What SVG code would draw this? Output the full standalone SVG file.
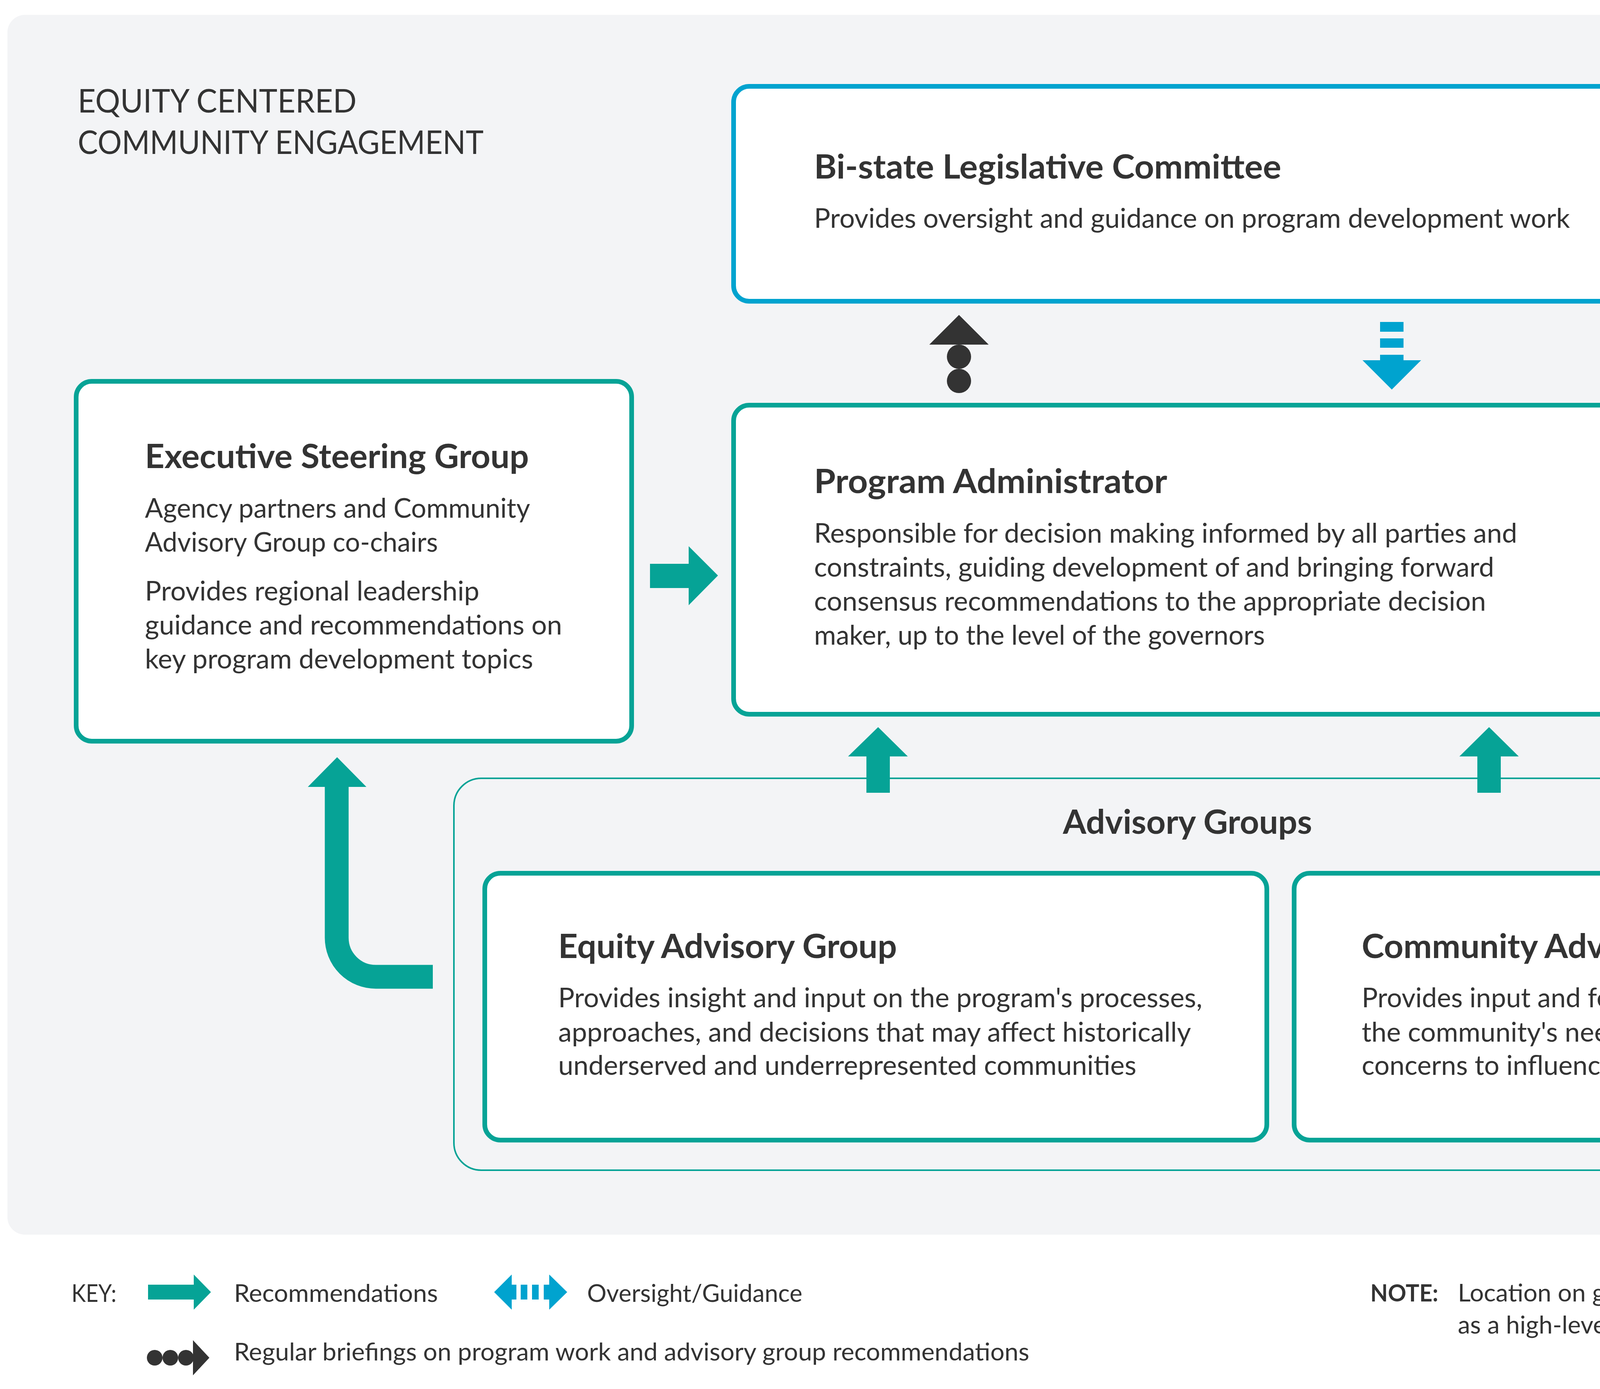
<svg xmlns="http://www.w3.org/2000/svg" width="6005" height="3555" viewBox="0 0 6005 3555">
<style>
.bg{fill:#f3f4f6}
.box{fill:#ffffff;stroke-width:12}
.teal{stroke:#06a396}
.blue{stroke:#00a3cf}
.ft{fill:#06a396}
.fb{fill:#00a3cf}
.fk{fill:#333333}
text{font-family:Lato,"Liberation Sans",sans-serif;fill:#333333}
.h{font-size:83px;font-weight:400}
.t{font-size:86px;font-weight:700}
.b{font-size:69px;font-weight:400}
.k{font-size:62px;font-weight:400}
.kb{font-size:62px;font-weight:700}
</style>
<rect x="0" y="0" width="6005" height="3555" fill="#ffffff"/>
<rect class="bg" x="19" y="38" width="5946" height="3122" rx="45"/>

<g id="header">
<text class="h" x="199" y="288" textLength="714" lengthAdjust="spacingAndGlyphs">EQUITY CENTERED</text>
<text class="h" x="199" y="394" textLength="1039" lengthAdjust="spacingAndGlyphs">COMMUNITY ENGAGEMENT</text>
</g>

<g id="advisory-groups">
<rect x="1162" y="1992" width="3882" height="1003" rx="70" fill="none" stroke="#06a396" stroke-width="4"/>
<text class="t" x="2721" y="2134" textLength="638" lengthAdjust="spacingAndGlyphs">Advisory Groups</text>
</g>

<g id="bi-state">
<rect class="box blue" x="1878" y="221" width="2331" height="550" rx="40"/>
<text class="t" x="2084" y="457" textLength="1196" lengthAdjust="spacingAndGlyphs">Bi-state Legislative Committee</text>
<text class="b" x="2084" y="583" textLength="1935" lengthAdjust="spacingAndGlyphs">Provides oversight and guidance on program development work</text>
</g>

<g id="program-administrator">
<rect class="box teal" x="1878" y="1037" width="2331" height="791" rx="40"/>
<text class="t" x="2084" y="1262" textLength="904" lengthAdjust="spacingAndGlyphs">Program Administrator</text>
<text class="b" x="2084" y="1389" textLength="1800" lengthAdjust="spacingAndGlyphs">Responsible for decision making informed by all parties and</text>
<text class="b" x="2084" y="1476" textLength="1741" lengthAdjust="spacingAndGlyphs">constraints, guiding development of and bringing forward</text>
<text class="b" x="2084" y="1563" textLength="1720" lengthAdjust="spacingAndGlyphs">consensus recommendations to the appropriate decision</text>
<text class="b" x="2084" y="1650" textLength="1154" lengthAdjust="spacingAndGlyphs">maker, up to the level of the governors</text>
</g>

<g id="executive-steering-group">
<rect class="box teal" x="195" y="976" width="1422" height="921" rx="40"/>
<text class="t" x="371" y="1198" textLength="983" lengthAdjust="spacingAndGlyphs">Executive Steering Group</text>
<text class="b" x="371" y="1325" textLength="986" lengthAdjust="spacingAndGlyphs">Agency partners and Community</text>
<text class="b" x="371" y="1412" textLength="750" lengthAdjust="spacingAndGlyphs">Advisory Group co-chairs</text>
<text class="b" x="371" y="1537" textLength="856" lengthAdjust="spacingAndGlyphs">Provides regional leadership</text>
<text class="b" x="371" y="1624" textLength="1068" lengthAdjust="spacingAndGlyphs">guidance and recommendations on</text>
<text class="b" x="371" y="1711" textLength="994" lengthAdjust="spacingAndGlyphs">key program development topics</text>
</g>

<g id="other-decision-makers">
<rect class="box blue" x="4537" y="974" width="1255" height="923" rx="40"/>
<text class="t" x="4719" y="1205" textLength="870" lengthAdjust="spacingAndGlyphs">Other Decision Makers</text>
<text class="t" x="4719" y="1310" textLength="732" lengthAdjust="spacingAndGlyphs">with Jurisdictional</text>
<text class="t" x="4719" y="1417" textLength="371" lengthAdjust="spacingAndGlyphs">Authority</text>
<text class="b" x="4719" y="1542" textLength="847" lengthAdjust="spacingAndGlyphs">Federal partners, permitting</text>
<text class="b" x="4719" y="1631" textLength="732" lengthAdjust="spacingAndGlyphs">agencies, transportation</text>
<text class="b" x="4719" y="1717" textLength="517" lengthAdjust="spacingAndGlyphs">commissions etc.</text>
</g>

<g id="equity-advisory-group">
<rect class="box teal" x="1241" y="2235" width="2002" height="683" rx="40"/>
<text class="t" x="1429" y="2452" textLength="867" lengthAdjust="spacingAndGlyphs">Equity Advisory Group</text>
<text class="b" x="1429" y="2578" textLength="1649" lengthAdjust="spacingAndGlyphs">Provides insight and input on the program's processes,</text>
<text class="b" x="1429" y="2666" textLength="1620" lengthAdjust="spacingAndGlyphs">approaches, and decisions that may affect historically</text>
<text class="b" x="1429" y="2751" textLength="1480" lengthAdjust="spacingAndGlyphs">underserved and underrepresented communities</text>
</g>

<g id="community-advisory-group">
<rect class="box teal" x="3313" y="2235" width="1654" height="683" rx="40"/>
<text class="t" x="3486" y="2452" textLength="1073" lengthAdjust="spacingAndGlyphs">Community Advisory Group</text>
<text class="b" x="3486" y="2578" textLength="1232" lengthAdjust="spacingAndGlyphs">Provides input and feedback reflective of</text>
<text class="b" x="3486" y="2666" textLength="1046" lengthAdjust="spacingAndGlyphs">the community's needs, issues and</text>
<text class="b" x="3486" y="2751" textLength="1230" lengthAdjust="spacingAndGlyphs">concerns to influence program outcomes</text>
</g>

<g id="connectors">
<!-- briefings: program administrator to bi-state -->
<g class="fk">
<polygon points="2455,806 2379,882 2531,882"/>
<circle cx="2455" cy="913" r="31"/>
<circle cx="2455" cy="975" r="31"/>
</g>
<!-- oversight: bi-state to program administrator -->
<g class="fb">
<rect x="3533" y="824" width="60" height="25"/>
<rect x="3533" y="866" width="60" height="24"/>
<rect x="3533" y="908" width="60" height="16"/>
<polygon points="3488,922 3638,922 3563,997"/>
</g>
<!-- recommendations: executive steering group to program administrator -->
<polygon class="ft" points="1664,1443 1763,1443 1763,1398 1838,1473 1763,1549 1763,1505 1664,1505"/>
<!-- oversight: program administrator <-> other decision makers -->
<g class="fb">
<polygon points="4248,1435 4324,1359 4324,1512"/>
<rect x="4323" y="1405" width="17" height="62"/>
<rect x="4356" y="1405" width="25" height="62"/>
<rect x="4397" y="1405" width="18" height="62"/>
<polygon points="4487,1435 4414,1359 4414,1512"/>
</g>
<!-- recommendations: equity advisory group to program administrator -->
<polygon class="ft" points="2248,1861 2324,1936 2278,1936 2278,2029 2218,2029 2218,1936 2171,1936"/>
<!-- recommendations: community advisory group to program administrator -->
<polygon class="ft" points="3812,1861 3888,1936 3842,1936 3842,2029 3782,2029 3782,1936 3736,1936"/>
<!-- recommendations: advisory groups to executive steering group -->
<path d="M862 2010 V2400 A100 100 0 0 0 962 2500 H1108" fill="none" stroke="#06a396" stroke-width="61"/>
<polygon class="ft" points="863,1938 938,2014 788,2014"/>
</g>

<g id="key">
<text class="k" x="183" y="3332" textLength="115" lengthAdjust="spacingAndGlyphs">KEY:</text>
<polygon class="ft" points="379,3288 496,3288 496,3262 540,3307 496,3352 496,3326 379,3326"/>
<text class="k" x="599" y="3332" textLength="522" lengthAdjust="spacingAndGlyphs">Recommendations</text>
<g class="fb">
<polygon points="1265,3307 1310,3262 1310,3352"/>
<rect x="1309" y="3288" width="13" height="38"/>
<rect x="1333" y="3288" width="17" height="38"/>
<rect x="1362" y="3288" width="17" height="38"/>
<rect x="1392" y="3288" width="15" height="38"/>
<polygon points="1452,3307 1406,3262 1406,3352"/>
</g>
<text class="k" x="1503" y="3332" textLength="551" lengthAdjust="spacingAndGlyphs">Oversight/Guidance</text>
<g class="fk">
<circle cx="396" cy="3475" r="20"/>
<circle cx="436" cy="3475" r="20"/>
<circle cx="476" cy="3475" r="20"/>
<polygon points="494,3430 536,3475 494,3520"/>
</g>
<text class="k" x="599" y="3482" textLength="2036" lengthAdjust="spacingAndGlyphs">Regular briefings on program work and advisory group recommendations</text>
</g>

<g id="note">
<text class="kb" x="3508" y="3331" textLength="174" lengthAdjust="spacingAndGlyphs">NOTE:</text>
<text class="k" x="3732" y="3331" textLength="2026" lengthAdjust="spacingAndGlyphs">Location on graphic does not indicate hierarchy. This diagram is intended</text>
<text class="k" x="3732" y="3413" textLength="1848" lengthAdjust="spacingAndGlyphs">as a high-level overview and does not show all engagement points.</text>
</g>
</svg>
